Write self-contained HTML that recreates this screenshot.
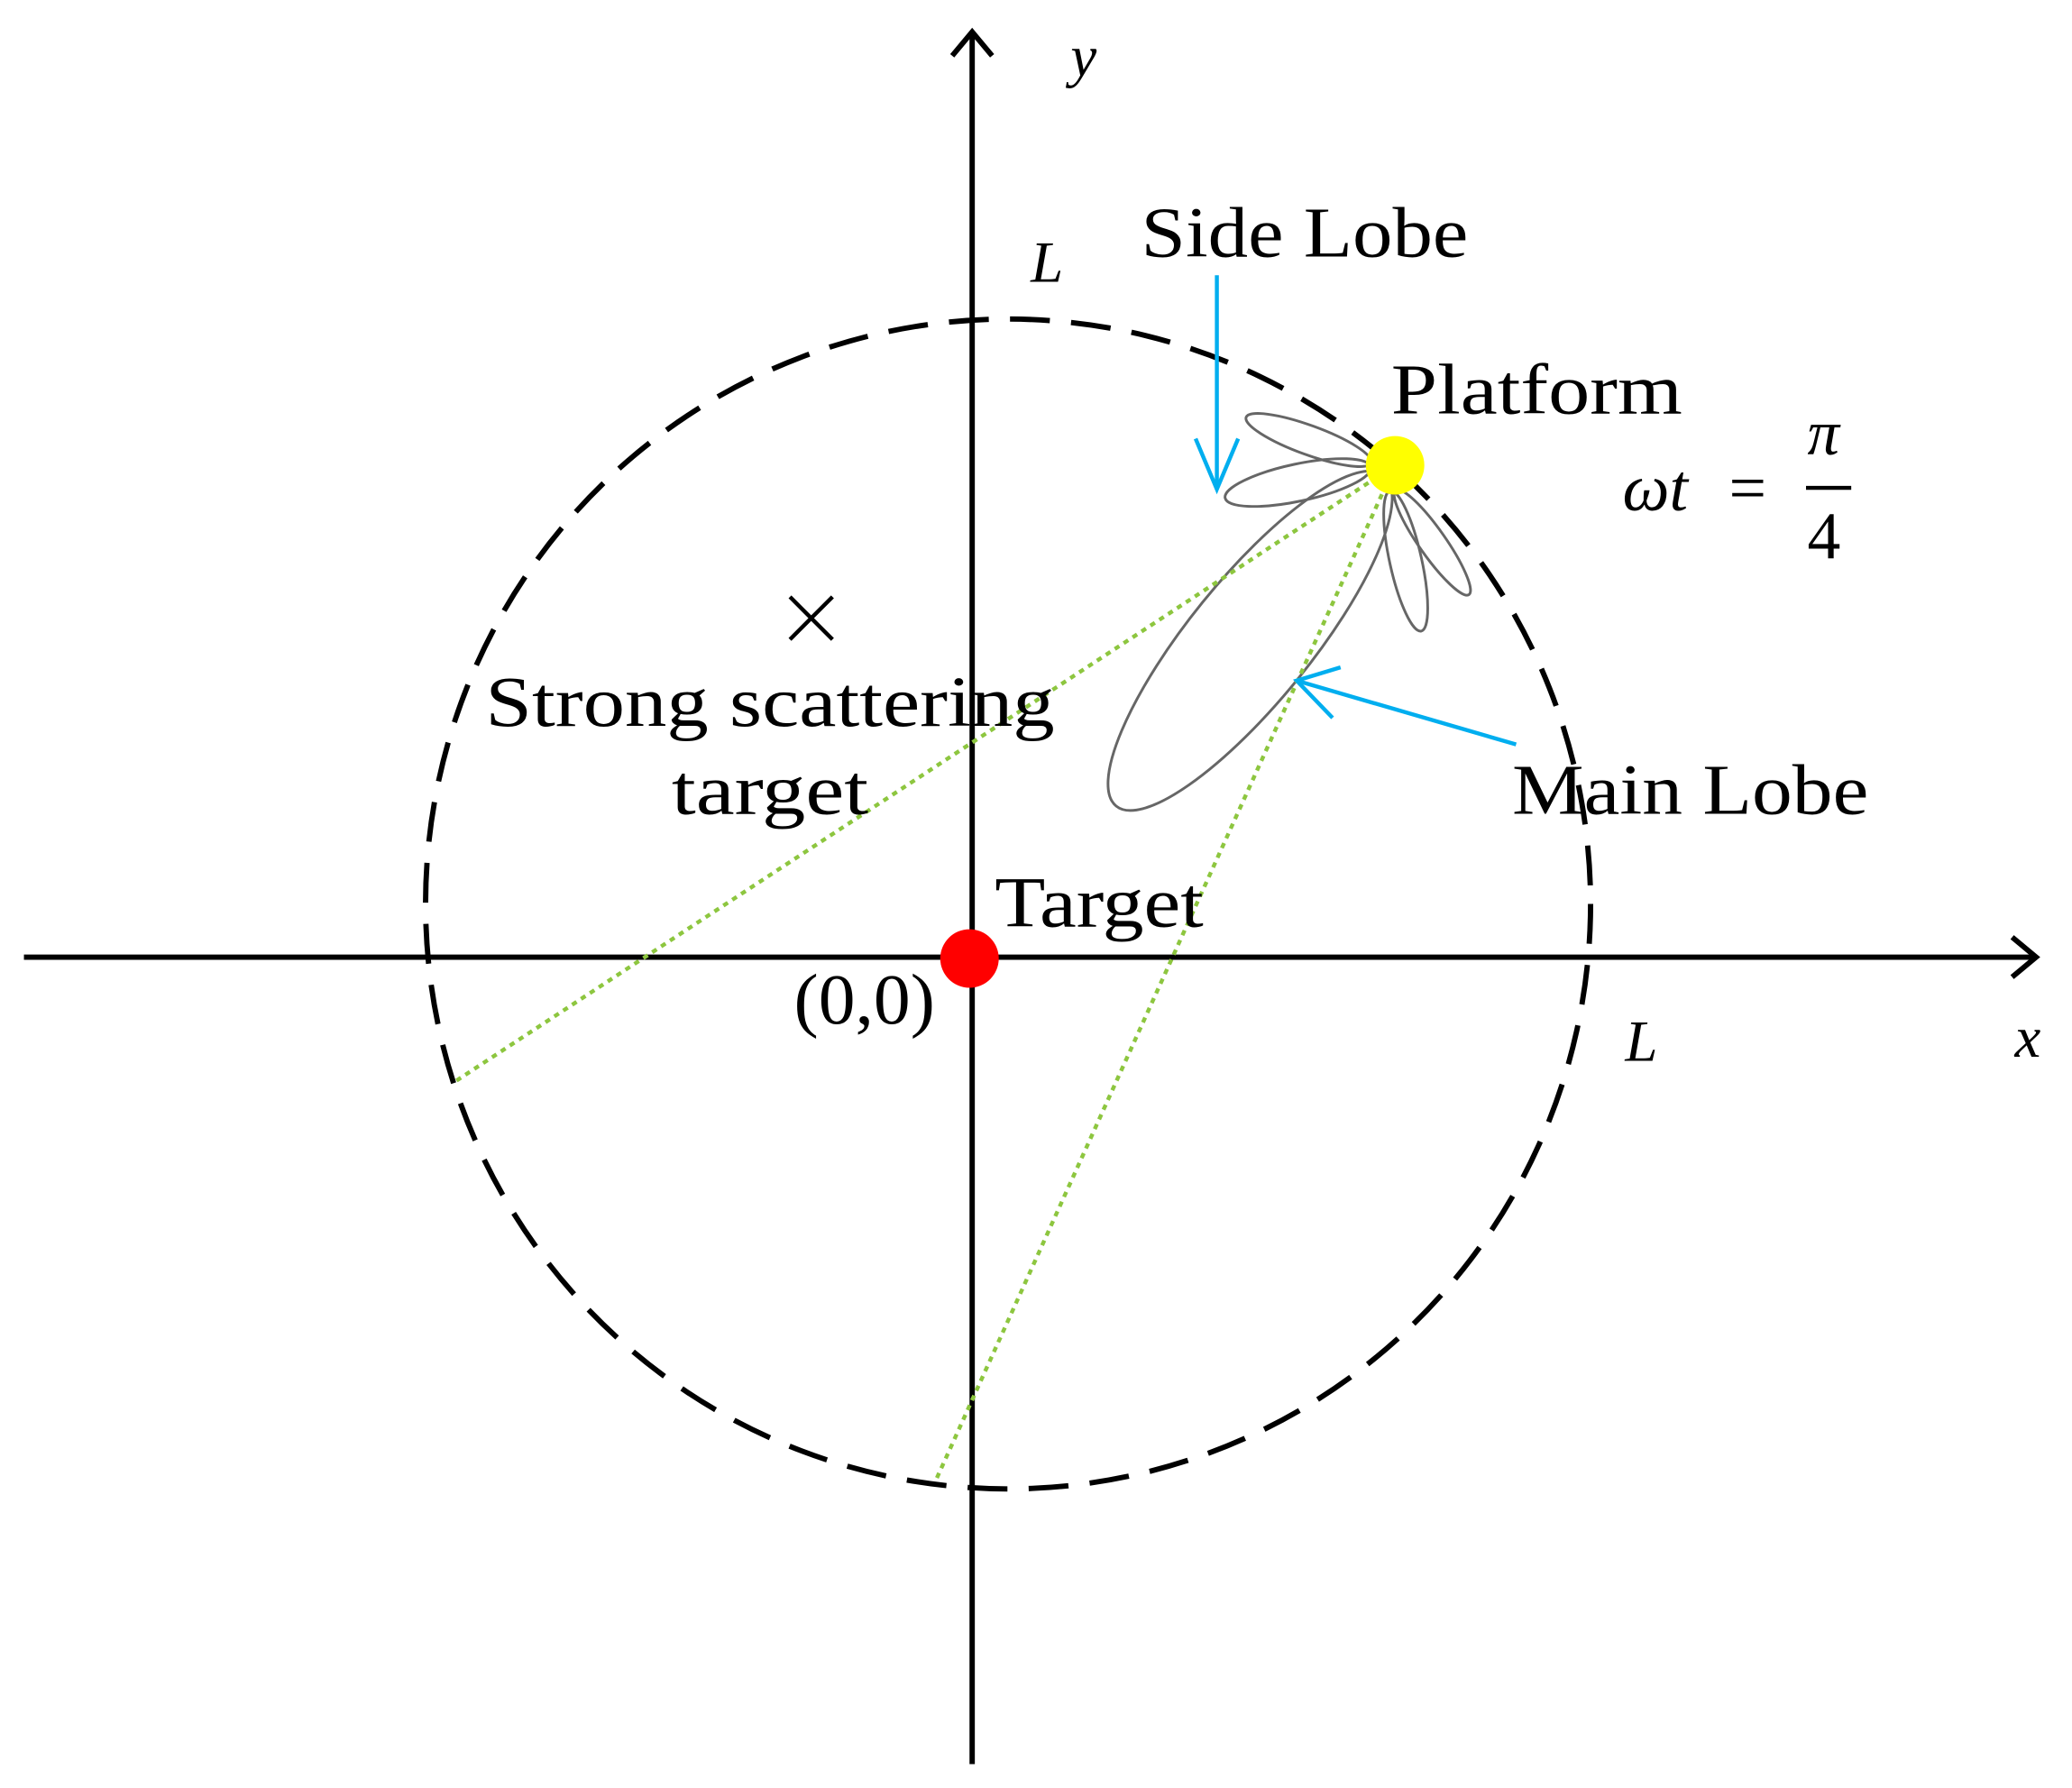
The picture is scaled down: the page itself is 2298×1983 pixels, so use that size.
<!DOCTYPE html>
<html><head><meta charset="utf-8"><style>
html,body{margin:0;padding:0;background:#fff;}
svg{display:block;}
text{font-family:"Liberation Serif",serif;fill:#000;}
</style></head><body>
<svg width="2298" height="1983" viewBox="0 0 1558 1345" preserveAspectRatio="none" xmlns="http://www.w3.org/2000/svg">
<line x1="18" y1="720" x2="1530" y2="720" stroke="#000" stroke-width="4"/>
<polyline points="1513,705 1531,720 1513,735" fill="none" stroke="#000" stroke-width="4"/>
<line x1="731" y1="24" x2="731" y2="1327" stroke="#000" stroke-width="4"/>
<polyline points="716,42 731,24 746,42" fill="none" stroke="#000" stroke-width="4"/>
<ellipse cx="758" cy="680" rx="438" ry="440" fill="none" stroke="#000" stroke-width="4" stroke-dasharray="30,16"/>
<g fill="none" stroke="#666" stroke-width="2">
<ellipse cx="940" cy="482" rx="160" ry="46" transform="rotate(129 940 482)"/>
<ellipse cx="984" cy="331" rx="50" ry="11" transform="rotate(20 984 331)"/>
<ellipse cx="976" cy="363" rx="56" ry="14" transform="rotate(-12 976 363)"/>
<ellipse cx="1077" cy="408" rx="48" ry="10" transform="rotate(55 1077 408)"/>
<ellipse cx="1057" cy="422" rx="54" ry="12" transform="rotate(77.5 1057 422)"/>
</g>
<g stroke="#8dc63f" stroke-width="3" stroke-dasharray="4,4" fill="none">
<line x1="1049" y1="350" x2="340" y2="815"/>
<line x1="1049" y1="350" x2="703" y2="1115"/>
</g>
<circle cx="729" cy="721" r="22" fill="#ff0000"/>
<circle cx="1049" cy="350" r="22" fill="#ffff00"/>
<g stroke="#00aeef" stroke-width="3" fill="none">
<line x1="915" y1="207" x2="915" y2="368"/>
<polyline points="899,330 915,368 931,330"/>
<line x1="1140" y1="560" x2="975" y2="512"/>
<polyline points="1008,502 975,512 1002,540"/>
</g>
<g stroke="#000" stroke-width="3"><line x1="594" y1="449" x2="626" y2="481"/><line x1="626" y1="449" x2="594" y2="481"/></g>
<text x="805" y="57" font-size="44" font-style="italic">y</text>
<text x="775" y="212" font-size="44" font-style="italic">L</text>
<text x="858" y="193" font-size="54" textLength="246" lengthAdjust="spacingAndGlyphs">Side Lobe</text>
<text x="1046" y="311" font-size="54" textLength="219" lengthAdjust="spacingAndGlyphs">Platform</text>
<text x="1220" y="384" font-size="50" font-style="italic">ωt</text>
<text x="1300" y="384" font-size="50">=</text>
<text x="1359" y="342" font-size="48" font-style="italic">π</text>
<line x1="1358" y1="367" x2="1392" y2="367" stroke="#000" stroke-width="3"/>
<text x="1359" y="420" font-size="50">4</text>
<text x="365" y="546" font-size="54" textLength="428" lengthAdjust="spacingAndGlyphs">Strong scattering</text>
<text x="505" y="612" font-size="54" textLength="148" lengthAdjust="spacingAndGlyphs">target</text>
<text x="748" y="697" font-size="54" textLength="157" lengthAdjust="spacingAndGlyphs">Target</text>
<text x="597" y="770" font-size="54" textLength="106" lengthAdjust="spacingAndGlyphs">(0,0)</text>
<text x="1137" y="612" font-size="54" textLength="268" lengthAdjust="spacingAndGlyphs">Main Lobe</text>
<text x="1222" y="798" font-size="44" font-style="italic">L</text>
<text x="1515" y="795" font-size="44" font-style="italic">x</text>
</svg>
</body></html>
